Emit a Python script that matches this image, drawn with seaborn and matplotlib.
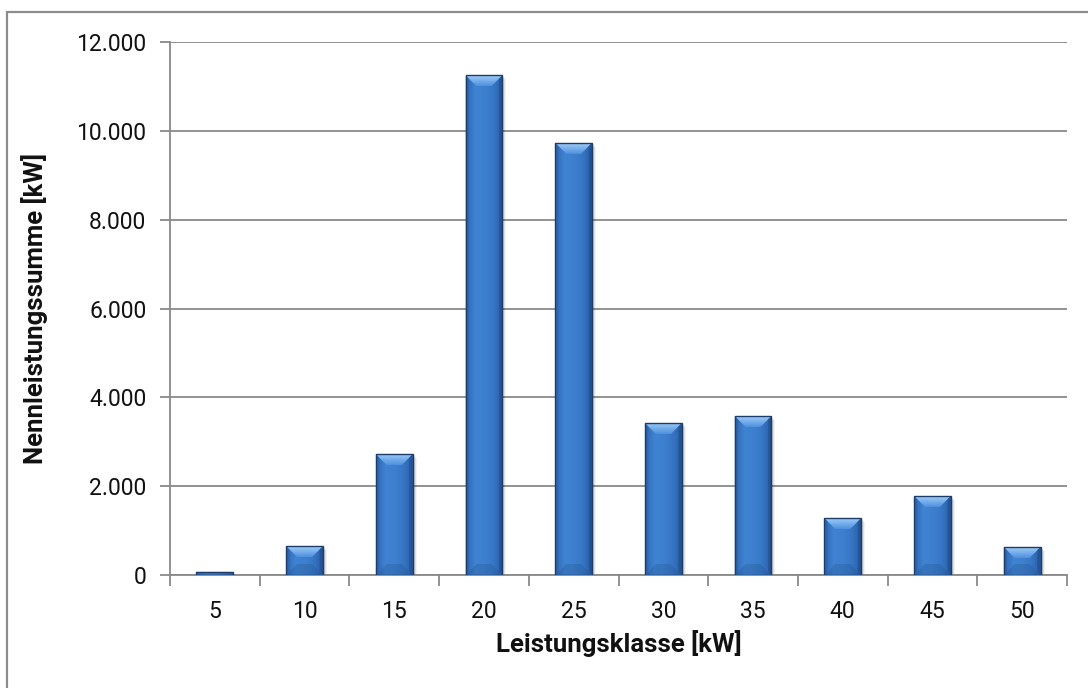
import numpy as np
import pandas as pd
import matplotlib
matplotlib.use("Agg")
import matplotlib.pyplot as plt
from matplotlib.patches import Polygon, Rectangle
from matplotlib.ticker import FuncFormatter, MultipleLocator
from matplotlib.colors import LinearSegmentedColormap
import seaborn as sns

# Leistungsklassen und Nennleistungssummen
klassen = ["5", "10", "15", "20", "25", "30", "35", "40", "45", "50"]
summen_kw = [70, 650, 2720, 11250, 9730, 3420, 3580, 1280, 1780, 630]

df = pd.DataFrame({"Leistungsklasse": klassen, "Nennleistungssumme": summen_kw})

sns.set_theme(style="white")
plt.rcParams["font.family"] = ["Roboto", "DejaVu Sans"]

GRID = "#898989"
W, H = 1088, 688
fig = plt.figure(figsize=(W / 100, H / 100), dpi=100)
ax = fig.add_axes([170 / W, 1 - 575 / H, (1067 - 170) / W, (575 - 42) / H])

sns.barplot(data=df, x="Leistungsklasse", y="Nennleistungssumme", ax=ax,
            width=0.41, color="#3876C4", saturation=1, linewidth=0,
            zorder=3, err_kws={"linewidth": 0})

ax.set_ylim(0, 12000)
ax.set_xlim(-0.5, len(klassen) - 0.5)
ax.yaxis.set_major_locator(MultipleLocator(2000))
ax.yaxis.set_major_formatter(FuncFormatter(lambda v, p: f"{int(v):,}".replace(",", ".")))
ax.grid(axis="y", color=GRID, linewidth=1.3, zorder=0)
ax.grid(axis="x", visible=False)
ax.set_axisbelow(True)

for s in ("top", "right"):
    ax.spines[s].set_visible(False)
for s in ("left", "bottom"):
    ax.spines[s].set_color(GRID)
    ax.spines[s].set_linewidth(1.3)

# Teilstriche: y links außen, x nach unten an den Klassengrenzen
ax.tick_params(axis="y", which="major", left=True, length=7, width=1.3,
               color=GRID, pad=10, labelsize=16.5, labelcolor="#111111")
ax.set_xticks(np.arange(len(klassen)))
ax.set_xticklabels(klassen)
ax.set_xticks(np.arange(len(klassen) + 1) - 0.5, minor=True)
ax.tick_params(axis="x", which="major", bottom=False, pad=12, labelsize=16.5,
               labelcolor="#111111")
ax.tick_params(axis="x", which="minor", bottom=True, length=8, width=1.3,
               color=GRID)

ax.set_xlabel("Leistungsklasse [kW]", fontsize=18.5, fontweight="semibold",
              color="#111111", labelpad=5)
ax.set_ylabel("Nennleistungssumme [kW]", fontsize=18.5, fontweight="semibold",
              color="#111111", labelpad=20)

# Abgeschrägte Balkenoptik: Verlauf auf der Front, helle Oberkante, dunkler Rand
fig.canvas.draw()
to_px = ax.transData
to_data = ax.transData.inverted()
face_cmap = LinearSegmentedColormap.from_list(
    "front", ["#2F66B0", "#3F83D3", "#3E80CF", "#3676C5", "#2A5EA6"])
top_cmap = LinearSegmentedColormap.from_list("top", ["#4F90DE", "#9FCDF8"])

for bar in list(ax.patches):
    x0, y0 = bar.get_x(), bar.get_y()
    x1, y1 = x0 + bar.get_width(), y0 + bar.get_height()
    (px0, py0), (px1, py1) = to_px.transform([(x0, y0), (x1, y1)])
    d = min(11.0, (py1 - py0) / 2.0, (px1 - px0) / 2.0)

    # weicher Schatten rechts unten
    for k, a in ((4, 0.05), (3, 0.07), (2, 0.09)):
        sp = to_data.transform([(px0 + k, py0 - k), (px1 + k, py1 - k)])
        ax.add_patch(Rectangle(sp[0], sp[1][0] - sp[0][0], sp[1][1] - sp[0][1],
                               facecolor="#000000", alpha=a, linewidth=0, zorder=2))

    grad = np.linspace(0, 1, 64).reshape(1, -1)
    im = ax.imshow(grad, cmap=face_cmap, extent=(x0, x1, y0, y1),
                   aspect="auto", origin="lower", zorder=3.2, interpolation="bicubic")
    im.set_clip_path(bar)

    def poly(pts_px, **kw):
        pts = to_data.transform(pts_px)
        return Polygon(pts, closed=True, linewidth=0, **kw)

    # obere Schräge mit Verlauf
    top = poly([(px0, py1), (px1, py1), (px1 - d, py1 - d), (px0 + d, py1 - d)],
               facecolor="none", zorder=3.4)
    ax.add_patch(top)
    tgrad = np.linspace(0, 1, 32).reshape(-1, 1)
    ty0 = to_data.transform([(0, py1 - d)])[0][1]
    tim = ax.imshow(tgrad, cmap=top_cmap, extent=(x0, x1, ty0, y1),
                    aspect="auto", origin="lower", zorder=3.3, interpolation="bicubic")
    tim.set_clip_path(top)
    # untere und seitliche Schrägen
    ax.add_patch(poly([(px0, py0), (px1, py0), (px1 - d, py0 + d), (px0 + d, py0 + d)],
                      facecolor="#24558F", alpha=0.3, zorder=3.4))
    ax.add_patch(poly([(px0, py0), (px0 + d * 0.3, py0 + d * 0.3),
                       (px0 + d * 0.3, py1 - d * 0.3), (px0, py1)],
                      facecolor="#2A5FA5", alpha=0.5, zorder=3.4))
    ax.add_patch(poly([(px1, py0), (px1 - d * 0.3, py0 + d * 0.3),
                       (px1 - d * 0.3, py1 - d * 0.3), (px1, py1)],
                      facecolor="#1F4C88", alpha=0.6, zorder=3.4))
    # Umriss
    ax.add_patch(Rectangle((x0, y0), x1 - x0, y1 - y0, facecolor="none",
                           edgecolor="#1C3D6A", linewidth=1.0, zorder=3.6))

ax.set_xlim(-0.5, len(klassen) - 0.5)
ax.set_ylim(0, 12000)

# Diagrammrahmen
fig.patches.append(Rectangle((7 / W, -0.05), 1.05, 1.05 - 12 / H,
                             transform=fig.transFigure, facecolor="none",
                             edgecolor="#8C8C8C", linewidth=1.6, zorder=-1))

fig.savefig("out.png", dpi=100)
